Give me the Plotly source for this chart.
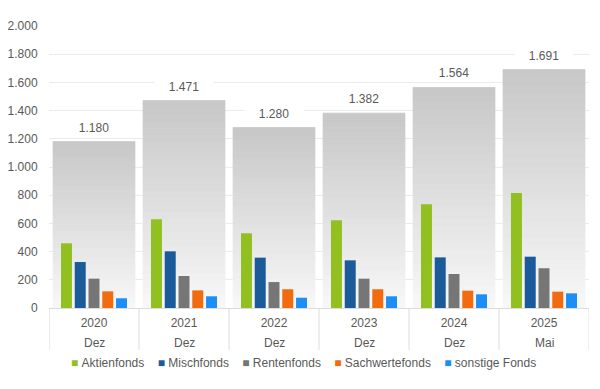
import plotly.graph_objects as go

# ---- data ----
years = ["2020", "2021", "2022", "2023", "2024", "2025"]
months = ["Dez", "Dez", "Dez", "Dez", "Dez", "Mai"]
totals = [1180, 1471, 1280, 1382, 1564, 1691]
series_names = ["Aktienfonds", "Mischfonds", "Rentenfonds", "Sachwertefonds", "sonstige Fonds"]
aktienfonds = [459, 629, 530, 622, 735, 816]
mischfonds = [326, 402, 357, 338, 359, 364]
rentenfonds = [208, 227, 184, 208, 241, 282]
sachwertefonds = [118, 125, 133, 133, 123, 116]
sonstige = [69, 83, 73, 83, 97, 104]
y_ticks = [0, 200, 400, 600, 800, 1000, 1200, 1400, 1600, 1800, 2000]

series_values = [aktienfonds, mischfonds, rentenfonds, sachwertefonds, sonstige]
series_colors = ["#92C020", "#1B5B99", "#767676", "#F26B0F", "#1C8EF5"]

FONT = "Liberation Sans, Arial, sans-serif"
TXT = "#595959"

idx = list(range(len(years)))

fig = go.Figure()

# total bars drawn as a vertical gradient: stacked slices of each total
N = 30
top_c = (199, 199, 199)
bot_c = (248, 248, 248)
for k in range(N):
    f = (k + 0.5) / N
    c = tuple(int(round(bot_c[i] + (top_c[i] - bot_c[i]) * f)) for i in range(3))
    col = "rgb(%d,%d,%d)" % c
    fig.add_trace(go.Bar(
        x=idx,
        y=[t / N for t in totals],
        base=[k * t / N for t in totals],
        width=0.91,
        marker=dict(color=col, line=dict(width=0.8, color=col)),
        showlegend=False,
        hoverinfo="skip",
    ))

# grouped series bars
bar_w = 0.122
step = 0.153
start = -0.367
for j, (name, vals, col) in enumerate(zip(series_names, series_values, series_colors)):
    fig.add_trace(go.Bar(
        x=idx,
        y=vals,
        name=name,
        width=bar_w,
        offset=start + j * step,
        marker=dict(color=col, line=dict(width=0)),
        showlegend=False,
    ))

annotations = []
for i, t in zip(idx, totals):
    annotations.append(dict(
        x=i, y=t, xref="x", yref="y",
        text=f"{t:,}".replace(",", "."),
        showarrow=False, yshift=14,
        font=dict(family=FONT, size=12, color=TXT),
        bgcolor="white", width=56,
    ))
for i, m in zip(idx, months):
    annotations.append(dict(
        x=i, y=-0.124, xref="x", yref="paper",
        text=m, showarrow=False, yanchor="middle",
        font=dict(family=FONT, size=12, color=TXT),
    ))

# legend row (colored square + series name)
NB = "\u00a0"
legend_text = (NB * 4).join(
    f"<span style='color:{c}'>■</span>{NB}{n}" for n, c in zip(series_names, series_colors)
)
annotations.append(dict(
    x=0.471, y=-0.195, xref="paper", yref="paper",
    xanchor="center", yanchor="middle",
    text=legend_text, showarrow=False,
    font=dict(family=FONT, size=12, color=TXT),
))

shapes = []
for i in range(len(years) + 1):
    shapes.append(dict(
        type="line", xref="x", yref="paper",
        x0=i - 0.5, x1=i - 0.5, y0=0, y1=-0.149,
        line=dict(color="#dcdcdc", width=1),
    ))

# page body has an 8px default margin, compensate in the figure margins
fig.update_layout(
    width=600, height=389,
    barmode="overlay",
    separators=",.",
    paper_bgcolor="white",
    plot_bgcolor="white",
    margin=dict(l=41, r=19, t=18, b=89),
    font=dict(family=FONT, size=12, color=TXT),
    showlegend=False,
    annotations=annotations,
    shapes=shapes,
)
fig.update_xaxes(
    range=[-0.5, len(years) - 0.5],
    tickvals=idx, ticktext=years,
    showgrid=False, zeroline=False, automargin=False,
    showline=True, linecolor="#dcdcdc", linewidth=1,
    ticks="outside", ticklen=4, tickcolor="rgba(0,0,0,0)",
    tickfont=dict(family=FONT, size=12, color=TXT),
)
fig.update_yaxes(
    range=[0, 2000],
    tickvals=y_ticks,
    tickformat=",d",
    showgrid=True, gridcolor="#ebebeb", gridwidth=1,
    zeroline=False, showline=False, automargin=False,
    ticks="outside", ticklen=8, tickcolor="rgba(0,0,0,0)",
    tickfont=dict(family=FONT, size=12, color=TXT),
)

fig.write_html("out.html")
